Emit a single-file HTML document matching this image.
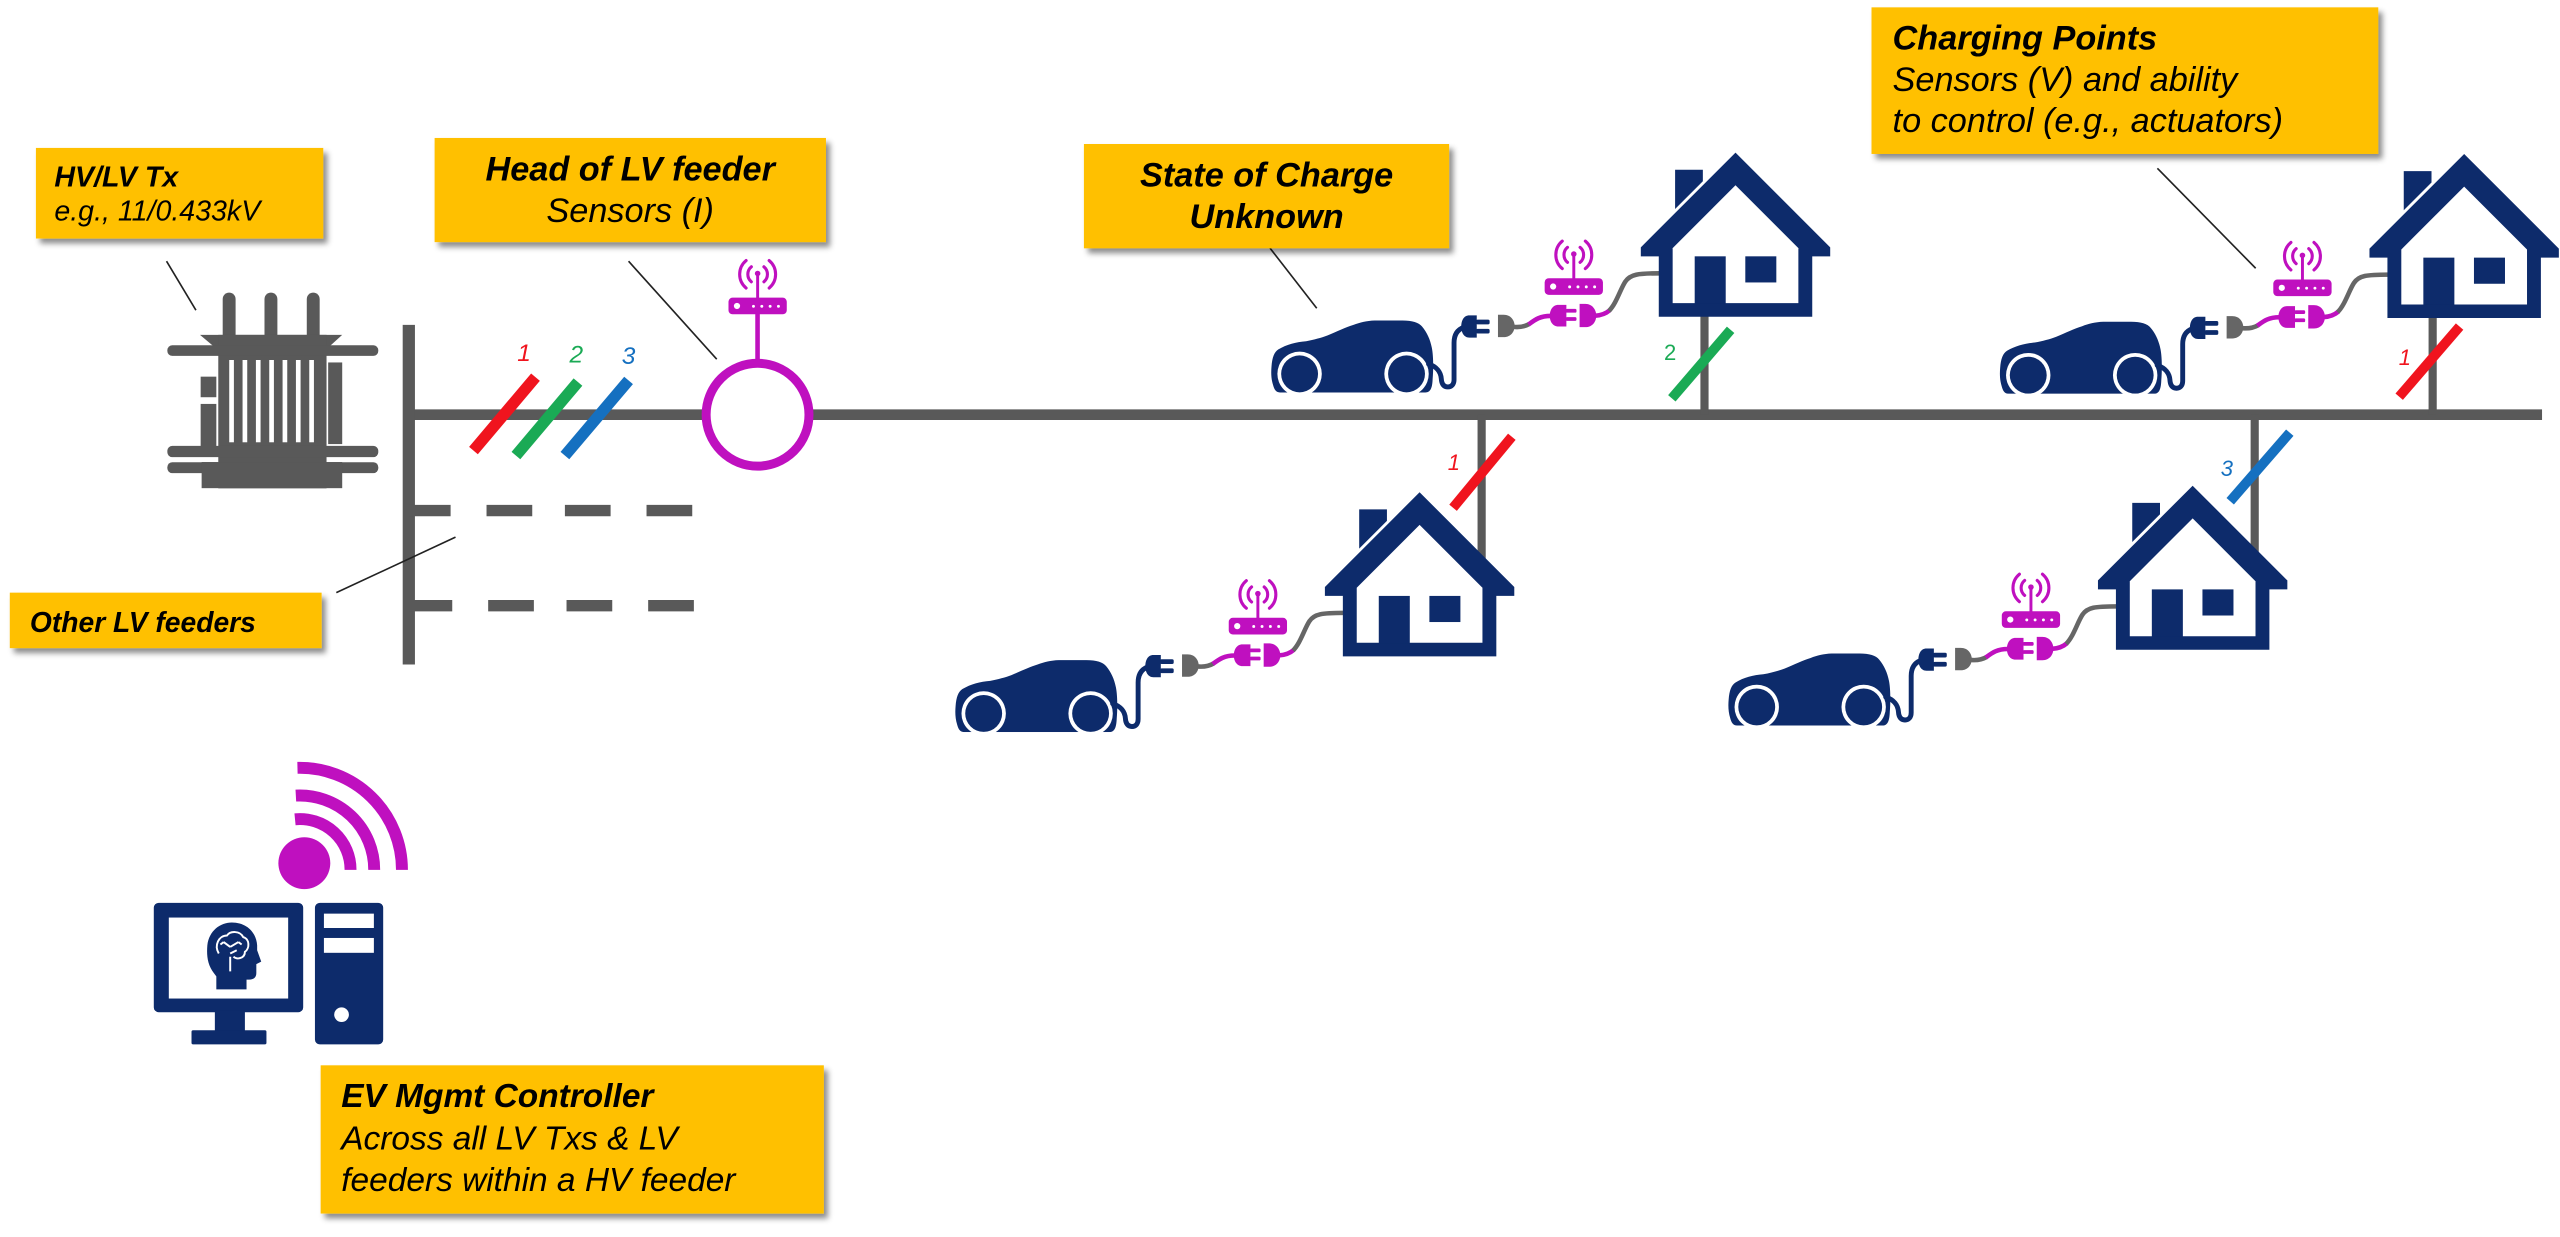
<!DOCTYPE html>
<html>
<head>
<meta charset="utf-8">
<style>
html,body{margin:0;padding:0;background:#fff;}
svg{display:block;}
text{font-family:"Liberation Sans",Arial,sans-serif;fill:#000;}
.bi{font-weight:bold;font-style:italic;}
.it{font-style:italic;}
</style>
</head>
<body>
<svg width="2560" height="1237" viewBox="0 0 1568 757.66" xmlns="http://www.w3.org/2000/svg" xmlns:xlink="http://www.w3.org/1999/xlink">
<defs>
  <filter id="sh" x="-10%" y="-10%" width="125%" height="145%">
    <feDropShadow dx="2.5" dy="3" stdDeviation="1.8" flood-color="#000" flood-opacity="0.45"/>
  </filter>
  <g id="router">
    <rect x="0" y="0" width="35.7" height="10.2" rx="2.5" fill="#bf10bf"/>
    <circle cx="5.2" cy="5.1" r="1.9" fill="#fff"/>
    <circle cx="15.3" cy="5.3" r="0.9" fill="#fff"/>
    <circle cx="20.4" cy="5.3" r="0.9" fill="#fff"/>
    <circle cx="25.5" cy="5.3" r="0.9" fill="#fff"/>
    <circle cx="30.6" cy="5.3" r="0.9" fill="#fff"/>
    <line x1="17.85" y1="0.5" x2="17.85" y2="-14" stroke="#bf10bf" stroke-width="1.8"/>
    <circle cx="17.85" cy="-14.8" r="1.7" fill="#bf10bf"/>
    <path d="M13.99,-18.9 A6 6 0 0 0 13.99,-9.7 M21.71,-18.9 A6 6 0 0 1 21.71,-9.7 M10.78,-22.73 A11 11 0 0 0 10.78,-5.87 M24.92,-22.73 A11 11 0 0 1 24.92,-5.87" stroke="#bf10bf" stroke-width="1.9" fill="none" stroke-linecap="round"/>
  </g>
  <g id="hg">
    <g transform="translate(-285,102.5)">
      <!-- car -->
      <path d="M1.8,40 C0.5,36 0.5,32 0.8,28.5 C1.2,23 2.5,19.5 5,18 C10,15 16,13.5 22,13 C27,12 31,11 35,9.5 C41,7 46,4.5 51,3 C55,1.5 59,0.5 64,0.3 L81,0.3 C87,0.3 91,1.5 93,4 C96,7.5 98,12 99,17 C100,22 100,30 99.5,36 C99.3,41 98.5,44.4 95,44.4 L6,44.4 C3.5,44.4 2.5,42.5 1.8,40 Z" fill="#0d2b6b"/>
      <circle cx="18" cy="33" r="13.6" fill="#fff"/>
      <circle cx="83.5" cy="33" r="13.6" fill="#fff"/>
      <circle cx="18" cy="33" r="11.3" fill="#0d2b6b"/>
      <circle cx="83.5" cy="33" r="11.3" fill="#0d2b6b"/>
      <rect x="0" y="44.4" width="100" height="4" fill="#fff"/>
      <!-- navy cable and plug -->
      <path d="M97,27 C102,28.5 104.5,32 104.8,36 C105,39.5 106.5,41 108.8,41 C111,41 112.6,39.5 112.6,36.5 L112.6,14 C112.6,9 114.5,6 118.5,4.5" stroke="#0d2b6b" stroke-width="3" fill="none" stroke-linecap="round"/>
      <path d="M126.5,-2.8 L122,-2.8 C118.5,-2.8 117,0.5 117,4 C117,7.5 118.5,10.8 122,10.8 L126.5,10.8 Z" fill="#0d2b6b"/>
      <rect x="126" y="-0.2" width="8.4" height="2.9" rx="1" fill="#0d2b6b"/>
      <rect x="126" y="5.4" width="8.4" height="2.9" rx="1" fill="#0d2b6b"/>
      <!-- gray socket -->
      <path d="M139.5,-3.2 L143,-3.2 C147.5,-3.2 149.7,0.5 149.7,3.6 C149.7,7 147.5,10.5 143,10.5 L139.5,10.5 Z" fill="#666"/>
      <path d="M149,4.2 C153,4.6 156,4 158.8,2.4" stroke="#666" stroke-width="2.8" fill="none"/>
      <path d="M158.3,2.7 C162,0 165,-2.5 171.8,-2.5" stroke="#bf10bf" stroke-width="2.8" fill="none"/>
      <!-- magenta plug -->
      <path d="M181.4,-9.3 L176.5,-9.3 C173,-9.3 171.2,-6 171.2,-2.6 C171.2,0.8 173,4 176.5,4 L181.4,4 Z" fill="#bf10bf"/>
      <rect x="181" y="-6.8" width="6.6" height="2.3" rx="0.8" fill="#bf10bf"/>
      <rect x="181" y="-1.8" width="6.6" height="2.3" rx="0.8" fill="#bf10bf"/>
      <!-- magenta socket -->
      <path d="M189.5,-9.9 L193,-9.9 C197.5,-9.9 199.7,-6 199.7,-2.7 C199.7,0.8 197.5,4.4 193,4.4 L189.5,4.4 Z" fill="#bf10bf"/>
      <path d="M199,-2.6 C202.5,-2.8 205.5,-3.8 208,-6" stroke="#bf10bf" stroke-width="2.8" fill="none"/>
      <path d="M207.5,-5.6 C212,-10 214.5,-19 217.5,-23.5 C220.5,-28 225,-28.6 239,-28.6" stroke="#666" stroke-width="2.8" fill="none"/>
      <use xlink:href="#router" transform="translate(168.1,-25.6)"/>
    </g>
    <!-- house -->
    <path d="M0,0 L58,58 L58,63.5 L47,63.5 L47,100.5 L-47,100.5 L-47,63.5 L-58,63.5 L-58,58 Z" fill="#0d2b6b"/>
    <path d="M0,20 L38.5,58.5 L38.5,92.2 L-38.5,92.2 L-38.5,58.5 Z" fill="#fff"/>
    <rect x="-25" y="63.5" width="19" height="28.9" fill="#0d2b6b"/>
    <rect x="6" y="63.5" width="19" height="16" fill="#0d2b6b"/>
    <polygon points="-37,10.5 -20,10.5 -20,17.5 -37,34.5" fill="#0d2b6b"/>
  </g>
</defs>

<!-- ===== grid lines ===== -->
<g stroke="#595959" fill="none">
  <line x1="250" y1="254" x2="1557" y2="254" stroke-width="6.5"/>
  <line x1="250.4" y1="199" x2="250.4" y2="407" stroke-width="7.5"/>
  <!-- dashed other feeders -->
  <g stroke-width="7">
    <line x1="250" y1="312.7" x2="276" y2="312.7"/>
    <line x1="298" y1="312.7" x2="326" y2="312.7"/>
    <line x1="346" y1="312.7" x2="374" y2="312.7"/>
    <line x1="396" y1="312.7" x2="424" y2="312.7"/>
    <line x1="250" y1="371" x2="277" y2="371"/>
    <line x1="299" y1="371" x2="327" y2="371"/>
    <line x1="347" y1="371" x2="375" y2="371"/>
    <line x1="397" y1="371" x2="425" y2="371"/>
  </g>
  <!-- drops -->
  <g stroke-width="5">
    <line x1="1044" y1="192" x2="1044" y2="254"/>
    <line x1="1490" y1="193" x2="1490" y2="254"/>
    <line x1="907.5" y1="254" x2="907.5" y2="346"/>
    <line x1="1381" y1="254" x2="1381" y2="342"/>
  </g>
</g>

<!-- ===== transformer ===== -->
<g fill="#595959">
  <rect x="136.4" y="179.2" width="7.9" height="30" rx="3.9"/>
  <rect x="162" y="179.2" width="7.9" height="30" rx="3.9"/>
  <rect x="187.9" y="179.2" width="7.9" height="30" rx="3.9"/>
  <polygon points="122.5,205.1 209.6,205.1 202.1,211.9 130.6,211.9"/>
  <rect x="133.7" y="205.1" width="66.3" height="94"/>
  <rect x="102.5" y="211.5" width="129.2" height="6.5" rx="3"/>
  <rect x="102.5" y="273.1" width="129.2" height="6.9" rx="3"/>
  <rect x="102.5" y="283.1" width="129.2" height="6.7" rx="3"/>
  <rect x="123.5" y="283" width="86.1" height="16"/>
  <rect x="122.9" y="230.7" width="9.6" height="12.6"/>
  <rect x="122.9" y="247.4" width="9.6" height="26"/>
  <rect x="201" y="222" width="8.6" height="50"/>
</g>
<g fill="#fff">
  <rect x="140.4" y="220.5" width="2.86" height="50.4"/>
  <rect x="148.57" y="220.5" width="2.86" height="50.4"/>
  <rect x="156.74" y="220.5" width="2.86" height="50.4"/>
  <rect x="164.91" y="220.5" width="2.86" height="50.4"/>
  <rect x="173.08" y="220.5" width="2.86" height="50.4"/>
  <rect x="181.25" y="220.5" width="2.86" height="50.4"/>
  <rect x="189.42" y="220.5" width="2.86" height="50.4"/>
</g>

<!-- ===== main line slashes ===== -->
<g stroke-width="7" stroke-linecap="butt">
  <line x1="290" y1="276" x2="328" y2="231" stroke="#f0141e"/>
  <line x1="316" y1="279" x2="354" y2="234" stroke="#1aaa55"/>
  <line x1="346" y1="279" x2="385" y2="233" stroke="#1570c0"/>
</g>
<text x="321" y="221" font-size="15" class="it" text-anchor="middle" style="fill:#f0141e">1</text>
<text x="353" y="222" font-size="15" class="it" text-anchor="middle" style="fill:#1aaa55">2</text>
<text x="385" y="223" font-size="15" class="it" text-anchor="middle" style="fill:#1570c0">3</text>

<!-- ===== sensor ring ===== -->
<line x1="464" y1="192" x2="464" y2="223" stroke="#bf10bf" stroke-width="2.8"/>
<circle cx="464" cy="254" r="31.5" fill="#fff" stroke="#bf10bf" stroke-width="5.5"/>
<use xlink:href="#router" transform="translate(446.2,182.3)"/>

<!-- ===== houses groups ===== -->
<use xlink:href="#hg" transform="translate(1063,93.5)"/>
<use xlink:href="#hg" transform="translate(1509.3,94.3)"/>
<use xlink:href="#hg" transform="translate(869.5,301.5)"/>
<use xlink:href="#hg" transform="translate(1343,297.5)"/>

<!-- ===== drop slashes ===== -->
<g stroke-width="6">
  <line x1="1024" y1="244" x2="1060" y2="202" stroke="#1aaa55"/>
  <line x1="1469.5" y1="243" x2="1506.5" y2="200" stroke="#f0141e"/>
  <line x1="890" y1="311" x2="926" y2="267.5" stroke="#f0141e"/>
  <line x1="1366" y1="307" x2="1402.5" y2="265" stroke="#1570c0"/>
</g>
<text x="1023" y="220.5" font-size="13.5" text-anchor="middle" style="fill:#1aaa55">2</text>
<text x="1473" y="223.5" font-size="13.5" class="it" text-anchor="middle" style="fill:#f0141e">1</text>
<text x="890.5" y="288" font-size="13.5" class="it" text-anchor="middle" style="fill:#f0141e">1</text>
<text x="1364" y="291.5" font-size="13.5" class="it" text-anchor="middle" style="fill:#1570c0">3</text>

<!-- ===== computer ===== -->
<g>
  <circle cx="186.4" cy="528.7" r="15.9" fill="#bf10bf"/>
  <path d="M180.7,501.8 A31 31 0 0 1 214.7,532.8 M181.2,487.3 A45.5 45.5 0 0 1 229.2,532.8 M182.2,470.3 A62.5 62.5 0 0 1 246.2,532.8" stroke="#bf10bf" stroke-width="7.3" fill="none"/>
  <rect x="94.2" y="553" width="91.5" height="67" rx="3" fill="#0d2b6b"/>
  <rect x="103.4" y="562" width="73.1" height="49.6" fill="#fff"/>
  <rect x="131.6" y="619" width="18.4" height="13" fill="#0d2b6b"/>
  <rect x="117.3" y="631" width="45.9" height="8.7" rx="1" fill="#0d2b6b"/>
  <path d="M131,596 C127,591 126.5,585 127,579 C128,570 135,565 142,565 C151,565 157,571 157.5,579 L157.5,582 L160,589 L157,590.5 L157,596 C157,598.5 155.5,600 152.5,600 L151,600 L151,606 L132.5,606 L132.5,598 Z" fill="#0d2b6b"/>
  <path d="M134,584 C131,579 134,573 139,573 C141,570 147,570 149,574 C153,575 153,581 150,583 C150,587 145,588 143,586 M141,586 L141,595 M141,580 L137,577 M141,580 L146,577 M141,584 L145,582 M137,577 L135,578.5 M146,577 L148,578.5" stroke="#fff" stroke-width="1.2" fill="none"/>
  <rect x="192.9" y="553" width="41.8" height="86.7" rx="3" fill="#0d2b6b"/>
  <rect x="198.4" y="559.6" width="30.6" height="8.8" fill="#fff"/>
  <rect x="198.4" y="574.5" width="30.6" height="9.1" fill="#fff"/>
  <circle cx="209.2" cy="621.5" r="4.5" fill="#fff"/>
</g>

<!-- ===== leader lines ===== -->
<g stroke="#222" stroke-width="1">
  <line x1="102" y1="160" x2="120" y2="190"/>
  <line x1="385" y1="160" x2="439" y2="220"/>
  <line x1="206" y1="363" x2="279" y2="329"/>
  <line x1="777.9" y1="152" x2="806.5" y2="188.8"/>
  <line x1="1321.4" y1="103.1" x2="1381.6" y2="164.3"/>
</g>

<!-- ===== yellow boxes ===== -->
<g fill="#ffc000" filter="url(#sh)">
  <rect x="22" y="90.6" width="176" height="55.5"/>
  <rect x="266.2" y="84.5" width="239.7" height="63.8"/>
  <rect x="663.9" y="88.2" width="223.7" height="63.9"/>
  <rect x="1146.3" y="4.5" width="310.4" height="89.8"/>
  <rect x="6" y="363" width="191" height="34"/>
  <rect x="196.4" y="652.5" width="308.2" height="90.8"/>
</g>

<text x="33.3" y="114.2" font-size="17.5" class="bi">HV/LV Tx</text>
<text x="33.3" y="135.1" font-size="17.5" class="it">e.g., 11/0.433kV</text>

<text x="386" y="110.7" font-size="21" class="bi" text-anchor="middle">Head of LV feeder</text>
<text x="386" y="135.9" font-size="21" class="it" text-anchor="middle">Sensors (I)</text>

<text x="775.8" y="114.3" font-size="21" class="bi" text-anchor="middle">State of Charge</text>
<text x="775.8" y="139.6" font-size="21" class="bi" text-anchor="middle">Unknown</text>

<text x="1159.2" y="30.2" font-size="21" class="bi">Charging Points</text>
<text x="1159.2" y="55.8" font-size="21" class="it">Sensors (V) and ability</text>
<text x="1159.2" y="80.8" font-size="21" class="it">to control (e.g., actuators)</text>

<text x="18.3" y="387" font-size="17.3" class="bi">Other LV feeders</text>

<text x="209" y="677.9" font-size="20.5" class="bi">EV Mgmt Controller</text>
<text x="209" y="704.2" font-size="20.5" class="it">Across all LV Txs &amp; LV</text>
<text x="209" y="729.6" font-size="20.5" class="it">feeders within a HV feeder</text>
</svg>
</body>
</html>
